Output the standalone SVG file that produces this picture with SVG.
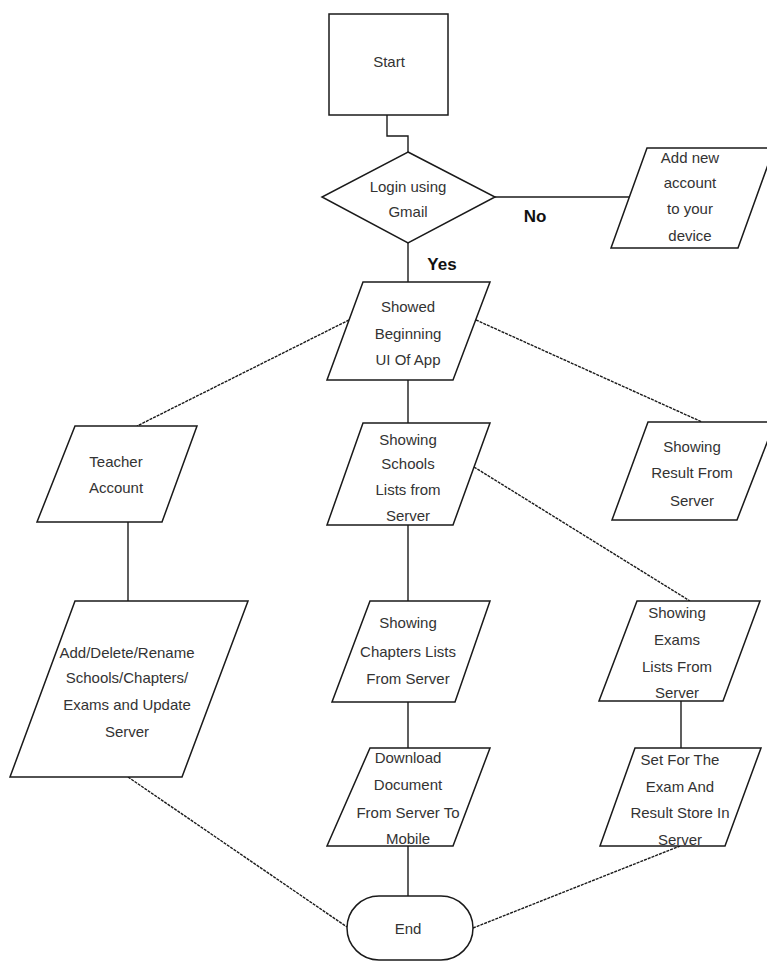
<svg xmlns="http://www.w3.org/2000/svg" width="767" height="961" viewBox="0 0 767 961">
<style>
.shape{fill:#fff;stroke:#1a1a1a;stroke-width:1.5}
.c{fill:none;stroke:#1a1a1a;stroke-width:1.4}
.d{fill:none;stroke:#1a1a1a;stroke-width:1.4;stroke-dasharray:3 1}
text{font-family:"Liberation Sans",Arial,sans-serif;font-size:15px;fill:#333;text-anchor:middle}
.b{font-weight:bold;font-size:17px;fill:#111}
</style>
<rect width="767" height="961" fill="#fff"/>
<g id="connectors">
<polyline class="c" points="387,115 387,136 408,136 408,152"/>
<line class="c" x1="495" y1="197" x2="629" y2="197"/>
<line class="c" x1="408" y1="243" x2="408" y2="282"/>
<line class="c" x1="408" y1="380" x2="408" y2="423"/>
<line class="c" x1="408" y1="525" x2="408" y2="601"/>
<line class="c" x1="408" y1="702" x2="408" y2="748"/>
<line class="c" x1="408" y1="846" x2="408" y2="896"/>
<line class="c" x1="128" y1="522" x2="128" y2="601"/>
<line class="c" x1="681" y1="701" x2="681" y2="748"/>
<line class="d" x1="349" y1="320" x2="137" y2="426"/>
<line class="d" x1="476" y1="320" x2="702" y2="422"/>
<line class="d" x1="474" y1="467" x2="690" y2="601"/>
<line class="d" x1="128" y1="777" x2="347" y2="927"/>
<line class="d" x1="473" y1="928" x2="680" y2="846"/>
<text class="b" x="535" y="222">No</text>
<text class="b" x="442" y="270">Yes</text>
</g>
<g id="start">
<rect class="shape" x="329" y="14" width="119" height="101"/>
<text x="389" y="67">Start</text>
</g>
<g id="login">
<polygon class="shape" points="408,152 495,197 408,243 322,197"/>
<text x="408" y="192">Login using</text>
<text x="408" y="217">Gmail</text>
</g>
<g id="addAccount">
<polygon class="shape" points="647,148 774,148 738,248 611,248"/>
<text x="690" y="163">Add new</text>
<text x="690" y="188">account</text>
<text x="690" y="214">to your</text>
<text x="690" y="241">device</text>
</g>
<g id="showed">
<polygon class="shape" points="363,282 490,282 453,380 327,380"/>
<text x="408" y="312">Showed</text>
<text x="408" y="339">Beginning</text>
<text x="408" y="365">UI Of App</text>
</g>
<g id="teacher">
<polygon class="shape" points="75,426 197,426 162,522 37,522"/>
<text x="116" y="467">Teacher</text>
<text x="116" y="493">Account</text>
</g>
<g id="schools">
<polygon class="shape" points="363,423 490,423 453,525 327,525"/>
<text x="408" y="445">Showing</text>
<text x="408" y="469">Schools</text>
<text x="408" y="495">Lists from</text>
<text x="408" y="521">Server</text>
</g>
<g id="result">
<polygon class="shape" points="648,422 775,422 737,520 612,520"/>
<text x="692" y="452">Showing</text>
<text x="692" y="478">Result From</text>
<text x="692" y="506">Server</text>
</g>
<g id="manage">
<polygon class="shape" points="75,601 248,601 182,777 10,777"/>
<text x="127" y="658">Add/Delete/Rename</text>
<text x="127" y="683">Schools/Chapters/</text>
<text x="127" y="710">Exams and Update</text>
<text x="127" y="737">Server</text>
</g>
<g id="chapters">
<polygon class="shape" points="370,601 490,601 455,702 332,702"/>
<text x="408" y="628">Showing</text>
<text x="408" y="657">Chapters Lists</text>
<text x="408" y="684">From Server</text>
</g>
<g id="exams">
<polygon class="shape" points="637,601 760,601 723,701 599,701"/>
<text x="677" y="618">Showing</text>
<text x="677" y="645">Exams</text>
<text x="677" y="672">Lists From</text>
<text x="677" y="698">Server</text>
</g>
<g id="download">
<polygon class="shape" points="370,748 490,748 453,846 327,846"/>
<text x="408" y="763">Download</text>
<text x="408" y="790">Document</text>
<text x="408" y="818">From Server To</text>
<text x="408" y="844">Mobile</text>
</g>
<g id="setExam">
<polygon class="shape" points="635,748 761,748 725,846 600,846"/>
<text x="680" y="765">Set For The</text>
<text x="680" y="792">Exam And</text>
<text x="680" y="818">Result Store In</text>
<text x="680" y="845">Server</text>
</g>
<g id="end">
<rect class="shape" x="347" y="896" width="126" height="64" rx="32" ry="32"/>
<text x="408" y="934">End</text>
</g>
</svg>
